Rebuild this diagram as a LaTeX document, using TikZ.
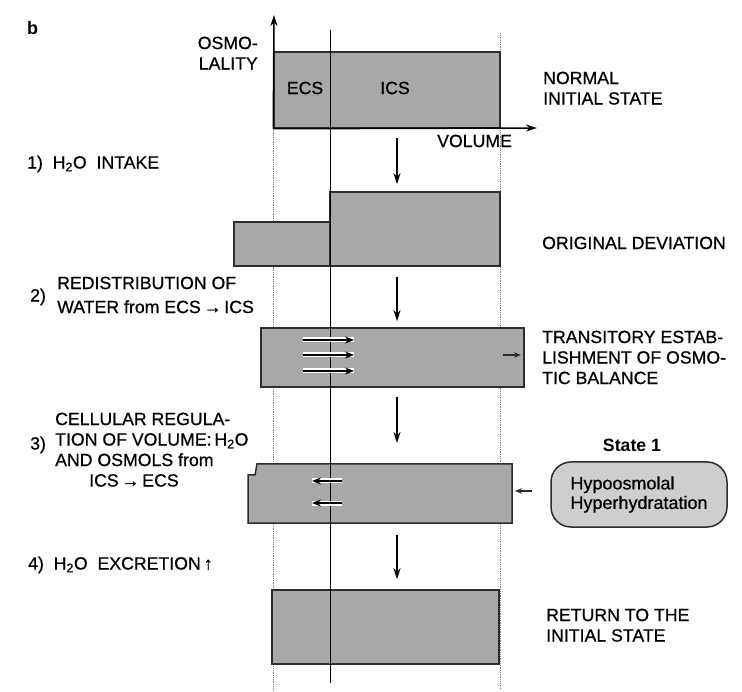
\documentclass[tikz,border=0pt]{standalone}
\usepackage{fontspec}
\setmainfont{Liberation Sans}[UprightFeatures={FakeBold=0.7}]
\usetikzlibrary{arrows.meta}

\definecolor{BoxGrey}{RGB}{168,168,168}
\definecolor{PillGrey}{RGB}{206,206,206}
\definecolor{EdgeGrey}{RGB}{45,45,45}

\begin{document}
\begin{tikzpicture}[x=1pt, y=-1pt,
                every node/.style={font=\fontsize{17.7}{20.5}\selectfont, inner sep=0pt},
                compart/.style={draw=EdgeGrey, line width=1.5pt, fill=BoxGrey, minimum width=#1},
                lbl/.style={anchor=north west, align=left},
                flow/.style={-{Stealth[length=11pt,width=7pt]}, line width=1.7pt, shorten <=9pt, shorten >=7pt},
                waterflow/.style={-{Stealth[length=9pt,width=7pt]}, line width=2.2pt, preaction={draw=white, line width=5pt, -}},
                nudge/.style={-{Stealth[length=7pt,width=5.5pt]}, line width=1.6pt, EdgeGrey},
                guide/.style={densely dotted, gray, line width=0.8pt}]

                \useasboundingbox (0,0) rectangle (742,692);

                % Guides
                \draw[guide] (273,128) -- (273,690);
                \draw[guide] (500,33) -- (500,690);

                % States
                \node[compart=226pt, minimum height=76pt] (normal) at (387,90) {};
                \node[compart=170pt, minimum height=74pt] (devICS) at (415,229) {};
                \node[compart=96pt, minimum height=44pt] (devECS) at (282,244) {};
                \node[compart=263pt, minimum height=59pt] (transit) at (392.5,357.5) {};
                \draw[draw=EdgeGrey, line width=1.5pt, fill=BoxGrey]
                      (248,523) -- (248,475) -- (255,475) -- (257,464) -- (512,464) -- (512,523) -- cycle;
                \coordinate (regtop) at (397,464);
                \coordinate (regbot) at (397,523);
                \coordinate (regright) at (512,491);
                \node[compart=227pt, minimum height=74pt] (ret) at (385.5,627) {};

                % Axes
                \draw[line width=1pt] (330,30) -- (330,683);
                \draw[-{Stealth[length=11pt,width=7pt]}, line width=1.5pt] (normal.south west) -- (274,15);
                \draw[-{Stealth[length=11pt,width=7pt]}, line width=1.5pt] (normal.south west) -- (537,128);
                \node[anchor=north east, align=right] (osmo) at (258,36.5) {OSMO-\\LALITY};
                \node (ecs) at (305,88) {ECS};
                \node (ics) at (395,88) {ICS};
                \node[lbl] (vol) at (437,134.5) {VOLUME};
                \node[font=\fontsize{18}{20.5}\selectfont\bfseries, anchor=north west] (b) at (27,21) {b};

                % Step arrows
                \coordinate (ax) at (397,0);
                \draw[flow] (normal.south -| ax) -- (devICS.north -| ax);
                \draw[flow, shorten <=10pt, shorten >=6pt] (devICS.south -| ax) -- (transit.north -| ax);
                \draw[flow, shorten >=21pt] (transit.south -| ax) -- (regtop);
                \draw[flow, shorten <=12pt, shorten >=10pt] (regbot) -- (ret.north -| ax);

                % Water shifts
                \foreach \y in {340,355,371}
                    \draw[waterflow] (303,\y) -- (354,\y);
                \draw[nudge] (503,355) -- (521,355);
                \foreach \y in {481,503}
                    \draw[waterflow] (342,\y) -- (312,\y);

                % Step texts
                \node[lbl] (s1) at (27,155.5) {1)~~H\textsubscript{2}O~~INTAKE};
                \node[lbl] (s2n) at (30,288.5) {2)};
                \node[lbl, font=\fontsize{17.7}{24}\selectfont] (s2) at (57,276.5) {REDISTRIBUTION OF\\WATER from ECS\,→\,ICS};
                \node[lbl] (s3n) at (30,436.5) {3)};
                \node[lbl] (s3) at (55,412.5) {CELLULAR REGULA-\\TION OF VOLUME:\,H\textsubscript{2}O\\AND OSMOLS from\\\hspace*{34pt}ICS\,→\,ECS};
                \node[lbl] (s4) at (28,556.5) {4)~~H\textsubscript{2}O~~EXCRETION\,↑};

                % State texts
                \node[lbl] (t0) at (543,71.5) {NORMAL\\INITIAL STATE};
                \node[lbl] (t1) at (542,236.5) {ORIGINAL DEVIATION};
                \node[lbl] (t2) at (542,330.5) {TRANSITORY ESTAB-\\LISHMENT OF OSMO-\\TIC BALANCE};
                \node[lbl] (t4) at (546,608.5) {RETURN TO THE\\INITIAL STATE};

                % State 1
                \node[font=\fontsize{17.7}{20.5}\selectfont\bfseries] (st1) at (632,445) {State 1};
                \node[draw=EdgeGrey, line width=1.5pt, fill=PillGrey, rounded corners=20pt, minimum width=176pt,
                      minimum height=65pt, align=left, font=\fontsize{18}{19.5}\selectfont] (hypo) at (639,494.5)
                      {Hypoosmolal\\Hyperhydratation};
                \draw[nudge, shorten <=18pt, shorten >=3pt] (hypo.west |- regright) -- (regright);
            \end{tikzpicture}
\end{document}
